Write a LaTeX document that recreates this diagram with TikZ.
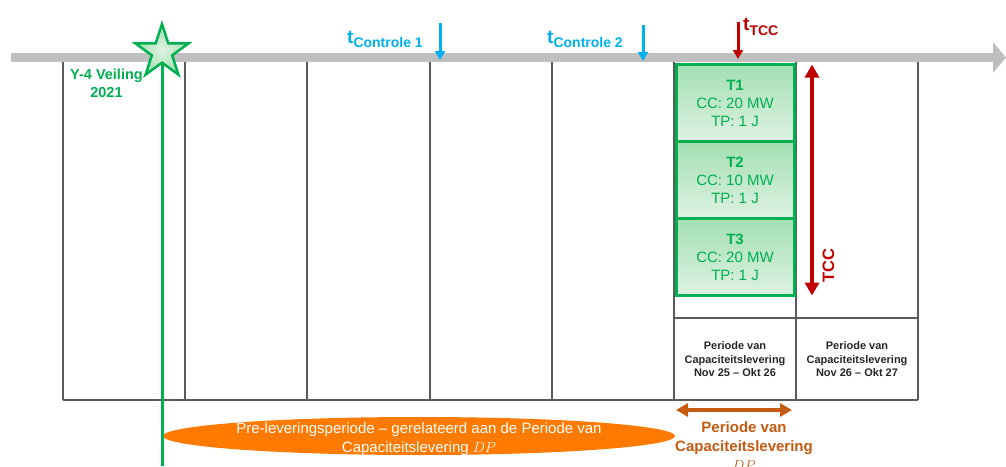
\documentclass[tikz,border=0pt]{standalone}
\usepackage{fontspec}
\setmainfont{Liberation Sans}
\usetikzlibrary{arrows.meta,shapes.geometric,positioning}
\definecolor{axisgray}{RGB}{191,191,191}
\definecolor{gridgray}{RGB}{90,90,90}
\definecolor{ctrlblue}{RGB}{0,176,240}
\definecolor{tccred}{RGB}{192,0,0}
\definecolor{auctgreen}{RGB}{0,176,80}
\definecolor{trtop}{RGB}{163,223,178}
\definecolor{trbottom}{RGB}{222,242,227}
\definecolor{preorange}{RGB}{255,122,0}
\definecolor{dporange}{RGB}{197,90,17}
\newcommand{\tsub}[1]{{\fontsize{19}{19}\selectfont t}\raisebox{-4.5pt}{\fontsize{14}{14}\selectfont #1}}

\begin{document}
\begin{tikzpicture}[x=1pt,y=-1pt,
    gridline/.style={draw=gridgray,line width=1.2pt},
    tranche/.style={rectangle,draw=auctgreen,line width=3pt,outer sep=0pt,
      minimum width=118pt,minimum height=77pt,
      top color=trtop,bottom color=trbottom,
      text=auctgreen,align=center,font=\fontsize{15}{18}\selectfont},
    tlabel/.style={anchor=base west,inner sep=0pt,font=\bfseries},
    cdpcell/.style={align=center,text=black!85,
      font=\fontsize{11}{13.5}\selectfont\bfseries}]
  \useasboundingbox (0,0) rectangle (1006,466);
  % Add the time axis
  \coordinate (axisL) at (11,57.5);
  \coordinate (axisR) at (1006,57.5);
  \draw[axisgray,line width=9pt,-{Triangle[width=30pt,length=13pt]}] (axisL) -- (axisR);
  % Add the year columns
  \foreach \x in {63,185,307,430,552,674,796,918}
    \draw[gridline] (\x,62) -- (\x,400);
  \draw[gridline] (63,400) -- (918,400);
  \draw[gridline] (674,318) -- (918,318);
  % Pre-delivery period
  \node[ellipse,
    fill=preorange,
    minimum width=512pt,
    minimum height=38pt] (pre) at (419,436) {};
  \node[text=white,
    align=center,
    font=\fontsize{15}{19.5}\selectfont] (pretxt) at (419,438.9)
    {Pre-leveringsperiode – gerelateerd aan de Periode van\\Capaciteitslevering $DP$};
  % Add the auction
  \coordinate (auctC) at (162,52);
  \coordinate (auctEnd) at (162,466);
  \draw[auctgreen,line width=3pt] (auctC) -- (auctEnd);
  \node[star,
    star points=5,
    star point ratio=2.618,
    minimum size=56pt,
    inner sep=0pt,
    draw=auctgreen,
    line width=2.5pt,
    inner color=trbottom,
    outer color=trtop] (auct) at (auctC) {};
  \node[text=auctgreen,
    align=center,
    font=\fontsize{14.5}{18}\selectfont\bfseries] (auctlbl) at (106.5,83.7) {Y-4 Veiling\\2021};
  % Add the control moments
  \coordinate (c1top) at (440,23);
  \coordinate (c1) at (440,60);
  \coordinate (c2top) at (643,25);
  \coordinate (c2) at (643,61);
  \draw[ctrlblue,line width=3pt,-{Triangle[width=10pt,length=9pt]}] (c1top) -- (c1);
  \draw[ctrlblue,line width=3pt,-{Triangle[width=10pt,length=9pt]}] (c2top) -- (c2);
  \node[tlabel,text=ctrlblue] (tc1) at (347,43) {\tsub{Controle 1}};
  \node[tlabel,text=ctrlblue] (tc2) at (547,43) {\tsub{Controle 2}};
  % Add the TCC moment
  \coordinate (ttop) at (738,22);
  \coordinate (tmoment) at (738,59);
  \draw[tccred,line width=3pt,-{Triangle[width=10pt,length=9pt]}] (ttop) -- (tmoment);
  \node[tlabel,text=tccred] (ttcc) at (743,30.5) {\tsub{TCC}};
  % Add the transactions
  \node[tranche] (t1) at (735,103) {\textbf{T1}\\CC: 20 MW\\TP: 1 J};
  \node[tranche,below=0pt of t1] (t2) {\textbf{T2}\\CC: 10 MW\\TP: 1 J};
  \node[tranche,below=0pt of t2] (t3) {\textbf{T3}\\CC: 20 MW\\TP: 1 J};
  % TCC duration
  \draw[tccred,
    line width=4pt,
    {Triangle[width=14pt,length=13pt]}-{Triangle[width=14pt,length=13pt]}]
    ([xshift=18pt]t1.north east) -- ([xshift=18pt]t3.south east);
  \node[rotate=90,
    text=tccred,
    font=\fontsize{16.5}{16.5}\selectfont\bfseries] (tcclbl) at (828.5,265.5) {TCC};
  % Add the delivery periods
  \node[cdpcell] (dp1) at (735,359.5) {Periode van\\Capaciteitslevering\\Nov 25 – Okt 26};
  \node[cdpcell] (dp2) at (857,359.5) {Periode van\\Capaciteitslevering\\Nov 26 – Okt 27};
  % Delivery period DP
  \coordinate (dpL) at (676,410);
  \coordinate (dpR) at (792,410);
  \draw[dporange,
    line width=4pt,
    {Triangle[width=13pt,length=12pt]}-{Triangle[width=13pt,length=12pt]}] (dpL) -- (dpR);
  \node[text=dporange,
    align=center,
    font=\fontsize{15}{19}\selectfont\bfseries] (dplbl) at (744,446.5)
    {Periode van\\Capaciteitslevering\\$DP$};
\end{tikzpicture}
\end{document}
